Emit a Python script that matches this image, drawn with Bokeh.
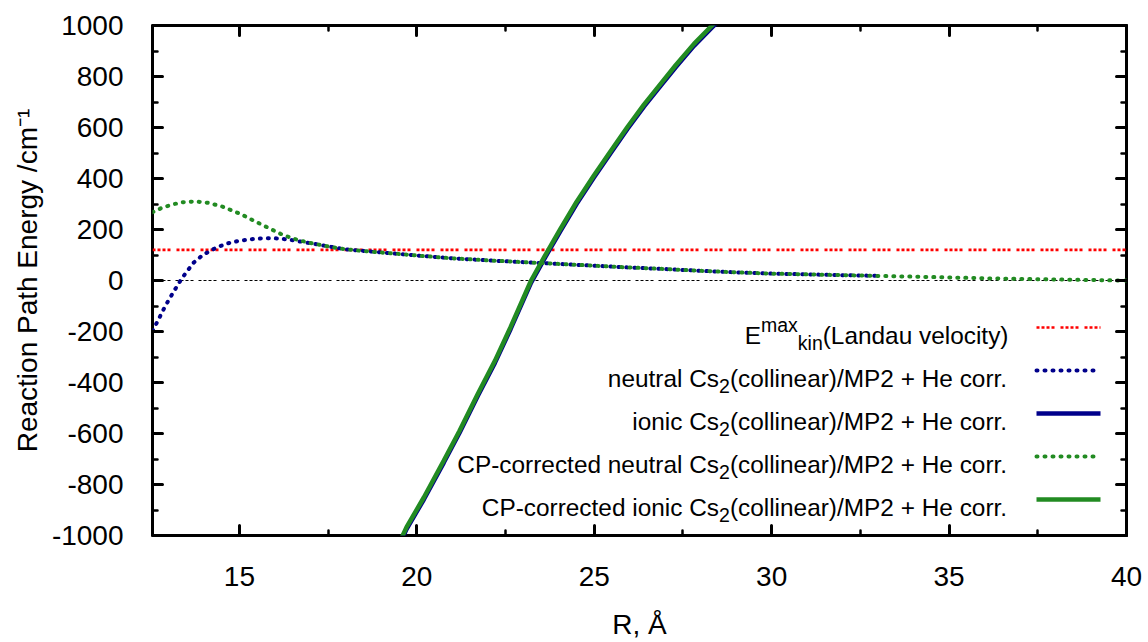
from bokeh.plotting import figure
from bokeh.models import Range1d, SingleIntervalTicker, LinearAxis, Label, CustomJSTickFormatter
from bokeh.embed import file_html
from bokeh.resources import INLINE

# ---------------- data ----------------
x_min, x_max = 12.55, 40.0
y_min, y_max = -1000.0, 1000.0

landau_energy = 120.0

x_neutral = [12.55, 12.7, 12.87, 13.0, 13.15, 13.34, 13.5, 13.71, 13.95, 14.18, 14.4, 14.65,
             15.0, 15.4, 15.78, 16.1, 16.4, 16.75, 17.1, 17.5, 18.0, 18.5, 19.0, 20.0, 21.0,
             22.0, 23.0, 24.0, 25.0, 26.0, 27.0, 28.0, 29.0, 30.0, 31.0, 32.0, 33.06]
y_neutral = [-198, -158, -111, -78, -43, 0, 32, 70, 98, 117, 132, 145,
             156, 163, 166, 165, 160, 152, 144, 134, 122, 116, 110, 98, 87,
             79, 72, 65, 58, 51, 45, 38, 32, 27, 24, 21, 18]

x_cp_neutral = [12.55, 12.8, 13.1, 13.4, 13.76, 14.1, 14.5, 15.03, 15.5, 15.85, 16.16, 16.5,
                16.9, 17.4, 17.85, 18.3, 18.8, 19.5, 20.0, 21.0, 22.0, 23.0, 24.0, 25.0,
                26.0, 27.0, 28.0, 29.0, 30.0, 31.0, 32.0, 33.0, 34.0, 35.0, 36.0, 37.0,
                38.0, 39.0, 39.75, 40.0]
y_cp_neutral = [268, 284, 298, 307, 310, 305, 291, 261, 228, 204, 183, 165,
                150, 136, 125, 118, 112, 104, 98, 87, 79, 72, 65, 58,
                51, 45, 38, 32, 27, 24, 21, 18, 15, 12, 8.5, 6,
                4, 2, 0, 0]

x_ionic = [19.5, 19.71, 20.2, 20.76, 21.2, 21.72, 22.2, 22.64, 23.22, 23.6, 24.05, 24.5,
           24.99, 25.45, 25.93, 26.4, 26.87, 27.3, 27.81, 28.32, 28.6]
y_ionic = [-1038, -975, -858, -714, -598, -452, -323, -191, -8, 87, 195, 300,
           404, 497, 593, 682, 763, 837, 920, 992, 1032]

x_cp_ionic = [19.5, 19.71, 20.2, 20.76, 21.2, 21.72, 22.2, 22.64, 23.22, 23.6, 24.05, 24.5,
              24.99, 25.45, 25.93, 26.4, 26.87, 27.3, 27.81, 28.32, 28.6]
y_cp_ionic = [-1030, -967, -850, -706, -590, -444, -315, -183, 0, 95, 203, 308,
              412, 505, 601, 690, 771, 845, 928, 1000, 1040]

# ---------------- styles ----------------
FONT = "Liberation Sans"
RED = "#ff0000"
BLUE = "#00008b"
GREEN = "#228b22"
RED_DASH = "3 2 3 2 3 2 3 6"
DOT_DASH = "1 7"
ZERO_DASH = "3 2 3 2 3 2 3 5"

# frame position in page pixels (for legend layout)
FRAME_L, FRAME_T, FRAME_W, FRAME_H = 152, 25, 974, 510


def px2x(px):
    return x_min + (px - FRAME_L) / FRAME_W * (x_max - x_min)


def py2y(py):
    return y_max - (py - FRAME_T) / FRAME_H * (y_max - y_min)


p = figure(width=1148, height=642, x_range=Range1d(x_min, x_max), y_range=Range1d(y_min, y_max),
           output_backend="svg", toolbar_location=None,
           min_border_left=152, min_border_right=22, min_border_top=25, min_border_bottom=107)
p.xgrid.visible = False
p.ygrid.visible = False
p.outline_line_color = "black"
p.outline_line_width = 3
p.background_fill_color = "white"
p.border_fill_color = "white"

xt = SingleIntervalTicker(interval=5, num_minor_ticks=2)
yt = SingleIntervalTicker(interval=200, num_minor_ticks=2)
p.xaxis.ticker = xt
p.yaxis.ticker = yt
p.xaxis.formatter = CustomJSTickFormatter(code="return tick.toFixed(0)")
p.yaxis.formatter = CustomJSTickFormatter(code="return tick.toFixed(0)")


def style_axis(ax):
    ax.axis_line_color = None
    ax.major_tick_in = 10
    ax.major_tick_out = 0
    ax.minor_tick_in = 5
    ax.minor_tick_out = 0
    ax.major_tick_line_width = 3
    ax.minor_tick_line_width = 2.5
    ax.major_tick_line_color = "black"
    ax.minor_tick_line_color = "black"
    ax.major_tick_line_cap = "round"
    ax.minor_tick_line_cap = "round"
    ax.major_label_text_font = FONT
    ax.major_label_text_font_size = "28px"
    ax.major_label_text_color = "black"
    ax.axis_label_text_font = FONT
    ax.axis_label_text_font_size = "28px"
    ax.axis_label_text_font_style = "normal"
    ax.axis_label_text_color = "black"


for ax in p.xaxis + p.yaxis:
    style_axis(ax)
p.xaxis.axis_label = "R, Å"
p.yaxis.axis_label = "Reaction Path Energy /cm⁻¹"
p.xaxis.major_label_standoff = 31
p.yaxis.major_label_standoff = 29
p.xaxis.axis_label_standoff = 20
p.yaxis.axis_label_standoff = 6

for loc, tk in (("above", xt), ("right", yt)):
    ax = LinearAxis(ticker=tk, formatter=CustomJSTickFormatter(code="return ''"))
    style_axis(ax)
    ax.major_label_text_font_size = "0px"
    ax.major_label_standoff = 0
    p.add_layout(ax, loc)

# ---------------- curves ----------------
p.line([x_min, x_max], [0, 0], line_color="black", line_width=1, line_dash=ZERO_DASH)
p.line([x_min, x_max], [landau_energy, landau_energy], line_color=RED, line_width=2.6,
       line_dash=RED_DASH)
p.line(x_neutral, y_neutral, line_color=BLUE, line_width=4, line_dash=DOT_DASH, line_cap="round")
p.line(x_ionic, y_ionic, line_color=BLUE, line_width=4.5)
p.line(x_cp_neutral, y_cp_neutral, line_color=GREEN, line_width=4, line_dash=DOT_DASH, line_cap="round")
p.line(x_cp_ionic, y_cp_ionic, line_color=GREEN, line_width=4.5)

# ---------------- legend (gnuplot style: text right, sample at right) ----------------
ARIAL = {' ': 278, '(': 333, ')': 333, '-': 333, '.': 278, '/': 278, '+': 584, '2': 556,
         'C': 722, 'E': 667, 'H': 722, 'L': 556, 'M': 833, 'P': 667, 'a': 556, 'c': 500,
         'd': 556, 'e': 556, 'i': 222, 'k': 500, 'l': 222, 'm': 833, 'n': 556, 'o': 556,
         'r': 333, 's': 500, 't': 278, 'u': 556, 'v': 500, 'x': 500, 'y': 500}
BASE = 24.4
SMALL = 19.5


def text_width(s, size):
    return sum(ARIAL.get(c, 556) for c in s) / 1000.0 * size


tail = "(collinear)/MP2 + He corr."
legend_rows = [
    ([("E", "n"), ("max", "sup"), ("kin", "sub"), ("(Landau velocity)", "n")],
     dict(line_color=RED, line_width=2.6, line_dash=RED_DASH)),
    ([("neutral Cs", "n"), ("2", "sub"), (tail, "n")],
     dict(line_color=BLUE, line_width=4, line_dash=DOT_DASH, line_cap="round")),
    ([("ionic Cs", "n"), ("2", "sub"), (tail, "n")],
     dict(line_color=BLUE, line_width=4.5)),
    ([("CP-corrected neutral Cs", "n"), ("2", "sub"), (tail, "n")],
     dict(line_color=GREEN, line_width=4, line_dash=DOT_DASH, line_cap="round")),
    ([("CP-corrected ionic Cs", "n"), ("2", "sub"), (tail, "n")],
     dict(line_color=GREEN, line_width=4.5)),
]
row_y0, row_step = 327, 43
text_right = 1008
for i, (pieces, lstyle) in enumerate(legend_rows):
    ry = row_y0 + i * row_step
    p.line([px2x(1036), px2x(1100)], [py2y(ry), py2y(ry)], **lstyle)
    base = ry + 8
    widths = [text_width(t, BASE if k == "n" else SMALL) for t, k in pieces]
    xpos = text_right - sum(widths)
    for (t, k), w in zip(pieces, widths):
        if k == "n":
            yb, fs = base, BASE
        elif k == "sup":
            yb, fs = base - 11, SMALL
        else:
            yb, fs = base + 7, SMALL
        p.add_layout(Label(x=px2x(xpos), y=py2y(yb), text=t, text_font=FONT,
                           text_font_size=f"{fs}px", text_color="black",
                           text_align="left", text_baseline="alphabetic"))
        xpos += w

open("out.html", "w").write(file_html(p, INLINE))
